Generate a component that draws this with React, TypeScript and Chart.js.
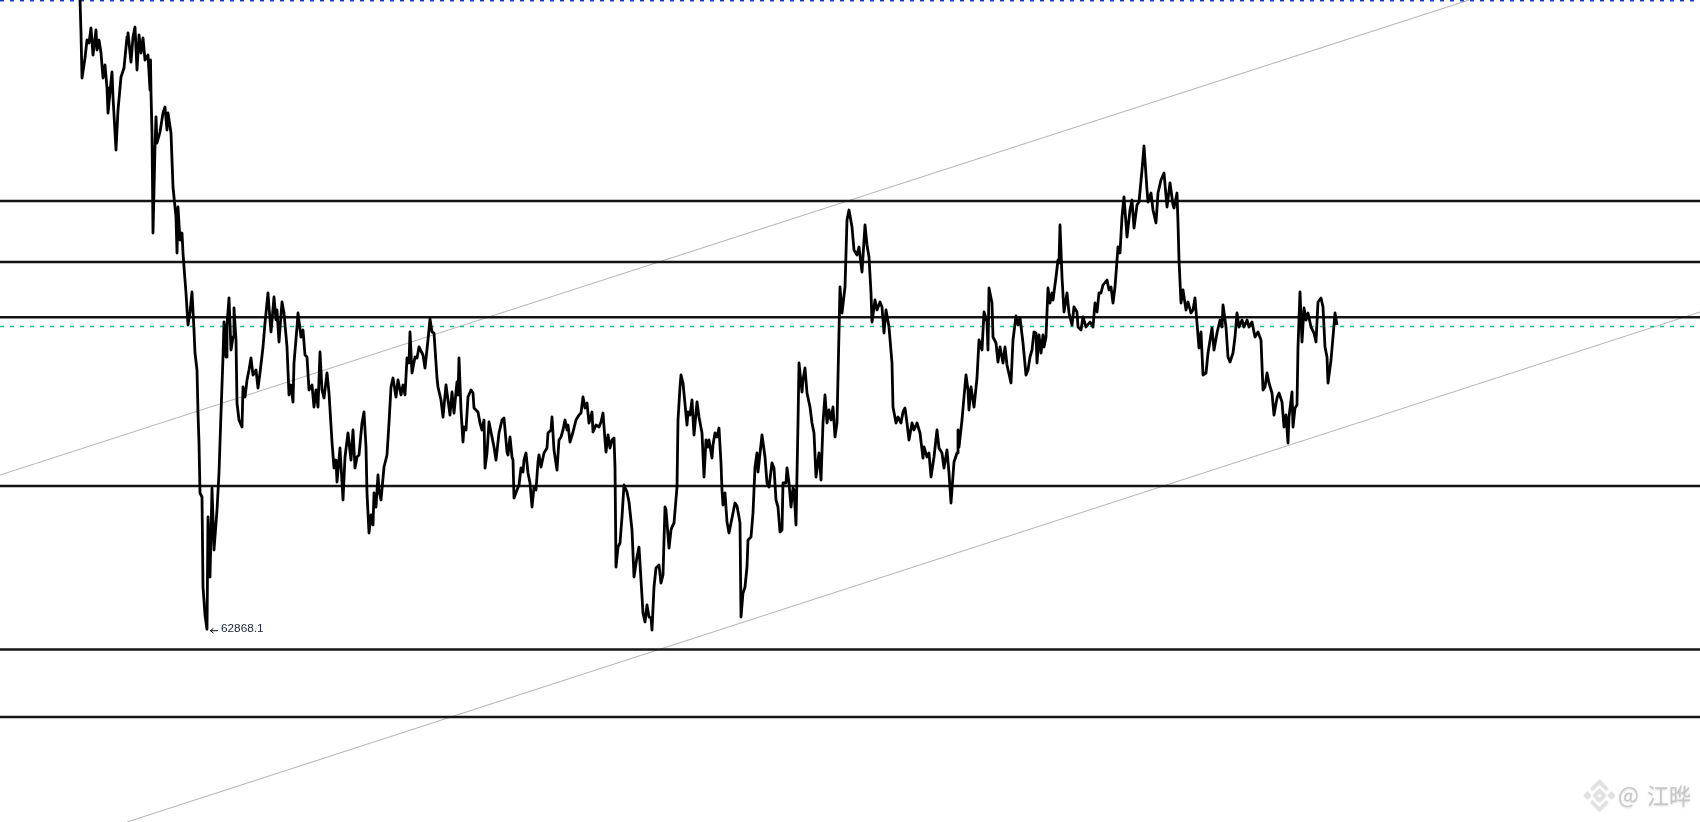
import React, { useEffect, useRef } from 'react';
import { Chart, registerables } from 'chart.js';

Chart.register(...registerables);

// bar number of each traced turning point of the price line
const bars = [
  0, 1, 2, 5, 7, 9, 11, 13, 16, 17, 19, 21, 23, 25, 27, 28, 30, 32, 33, 36, 38, 41, 44, 47, 48, 51, 53, 55, 57, 59, 61, 63, 65, 68, 70, 70.5, 71, 72, 73, 75, 76, 77, 80, 83, 85, 87, 88, 91, 92, 93, 96, 97, 98, 100, 102, 103, 104, 106, 108, 110, 112, 114,
  115, 117, 118, 119, 120, 122, 123, 125, 127, 128, 130, 132, 134, 137, 139, 141, 143, 144, 146, 147, 149, 151, 153, 154, 156, 157, 159, 162, 163, 165, 167, 169, 171, 173, 176, 178, 180, 183, 185, 188, 189, 191, 194, 196, 197, 199, 202, 204, 207, 209, 211, 213, 214, 217, 218, 221, 223, 225, 227, 229, 232, 234, 236, 238, 240, 242, 244, 247, 249, 252, 254, 256, 257, 260, 263, 265, 268, 271, 273, 275, 277, 279, 282, 284, 286, 287, 289, 291, 293, 294, 296, 298, 299, 301, 304, 307, 309, 311, 313, 316, 318, 321, 323, 325, 327, 329, 330, 332, 335, 337, 339, 343, 345, 348, 350, 352, 354, 357, 358, 361, 363, 366, 368,
  370, 372, 374, 377, 378, 379, 381, 383, 384, 386, 388, 391, 393, 394, 398, 400, 402, 404, 405, 407, 409, 412, 414, 416, 419, 422, 424, 427, 428, 430, 432, 433, 434, 437, 439, 441, 443, 444, 446, 448, 450, 452, 454, 456, 458, 459, 461, 464, 467, 468, 471, 472, 474, 477, 479, 481, 483, 485, 487, 488, 490, 493, 496, 499, 501, 503, 505, 507, 509, 512, 513, 516, 519, 521, 523, 525, 526, 528, 530, 532, 534, 535, 536, 538, 540, 542, 544, 547, 549, 552, 554, 557, 559, 561, 563, 565, 567, 569, 571, 572, 574, 576, 579, 581, 583, 585, 586, 589, 591, 592, 594, 597, 598, 600, 601, 603, 607, 608, 610, 612, 614, 617, 619, 622, 624, 626, 628, 629, 632, 633, 635, 637, 639, 641, 642, 643, 645, 647, 649, 652, 655, 657,
  659, 660, 661, 663, 665, 667, 668, 671, 673, 675, 677, 678, 682, 685, 687, 689, 692, 694, 696, 698, 700, 702, 703, 706, 707, 709, 711, 713, 714, 716, 718, 719, 722, 723, 725, 727, 730, 732, 734, 736, 739, 741, 743, 745, 747, 749, 751, 753, 755, 757, 758, 760, 762, 765, 767, 769, 772, 774, 777, 779, 782, 785, 787, 789, 791, 792, 795, 797, 800, 802, 804, 806, 809, 812, 813, 816, 818, 821, 823, 825, 827, 829, 832, 834, 837, 840, 843, 844, 847, 849, 851, 854, 857, 859, 862, 864, 867, 869, 871, 874, 877, 878, 879, 882, 884, 886, 888, 889, 891, 894, 897, 899, 902, 904, 907, 908, 909, 912, 913, 916, 918, 920, 923, 925, 927, 931, 933, 936, 938, 940, 943, 946, 948, 950,
  952, 954, 956, 957, 959, 961, 963, 964, 966, 968, 970, 972, 973, 976, 978, 979, 980, 982, 984, 987, 989, 992, 994, 997, 998, 1001, 1003, 1006, 1010, 1013, 1015, 1017, 1019, 1021, 1023, 1027, 1029, 1031, 1033, 1035, 1038, 1040, 1042, 1044, 1047, 1050, 1052, 1054, 1057, 1059, 1062, 1064, 1067, 1068, 1071, 1073, 1076, 1078, 1081, 1084, 1087, 1090, 1093, 1094, 1097, 1098, 1099, 1101, 1103, 1106, 1108, 1111, 1113, 1115, 1117, 1119, 1121, 1123, 1126, 1128, 1132, 1134, 1137, 1140, 1142, 1143, 1146, 1148, 1150, 1153, 1155, 1157, 1159, 1162, 1164, 1167, 1169, 1172, 1175, 1178, 1181, 1183, 1185, 1187, 1189, 1192, 1194, 1197, 1199, 1202, 1204, 1206, 1208, 1209, 1212, 1213, 1215, 1217, 1218, 1220, 1222, 1224, 1226, 1228, 1231, 1234, 1236, 1238, 1241, 1243, 1245, 1247, 1248, 1251, 1253, 1255, 1257,
];

// price at each of those bars
const prices = [
  69170, 68830, 68380, 68580, 68760, 68730, 68880, 68610, 68860, 68660, 68760, 68630, 68380, 68510, 68280, 68030, 68240, 68440, 68190, 67660, 68060, 68390, 68480, 68790, 68830, 68540, 68790, 68890, 68460, 68810, 68630, 68780, 68560, 68610, 68260, 68560, 68230, 67830, 66830, 67690, 67990, 67730, 67840, 68030, 68090, 67860, 68030, 67830, 67560, 67290, 66990, 66630, 67090, 66760, 66830, 66630, 66490, 66230, 65910, 66040, 66240, 65860,
  65630, 65460, 65030, 64730, 64230, 64190, 63290, 63010, 62868.1, 63990, 63390, 64280, 63660, 64060, 64430, 65030, 65590, 65940, 65590, 65910, 66180, 65660, 65790, 66080, 65760, 65130, 64960, 64890, 65290, 65190, 65360, 65460, 65580, 65410, 65460, 65280, 65430, 65690, 65930, 66230, 66090, 65840, 66190, 65960, 66060, 65740, 66140, 66030, 65690, 65210, 65310, 65140, 65530, 65890, 66030, 65790, 65860, 65610, 65590, 65260, 65310, 65090, 65260, 65090, 65640, 65260, 65180, 65430, 65230, 64740, 64480, 64560, 64340, 64680, 64160, 64590, 64830, 64560, 64860, 64480, 64590, 64610, 64930, 65040, 64690, 64230, 63830, 64010, 63910, 64230, 64090, 64410, 64260, 64160, 64490, 64610, 64930, 65290, 65380, 65190, 65360, 65210, 65310, 65210, 65580, 65530, 65840, 65430, 65590, 65580, 65690, 65610, 65480, 65760, 65970, 65840, 65830, 65380, 65290, 65160, 64990, 65310, 65160,
  65010, 65240, 65030, 65340, 65210, 65580, 65060, 64740, 64890, 64860, 65190, 65260, 65230, 65080, 65040, 64930, 64860, 64960, 64480, 64630, 64940, 64790, 64690, 64560, 64830, 64960, 64980, 64640, 64610, 64790, 64590, 64560, 64180, 64260, 64310, 64480, 64440, 64560, 64630, 64430, 64330, 64090, 64290, 64260, 64540, 64610, 64490, 64630, 64680, 64830, 64860, 64990, 64660, 64460, 64760, 64790, 64860, 64960, 64860, 64910, 64740, 64840, 64960, 65010, 65030, 65190, 65080, 65130, 64930, 65040, 64840, 64910, 64890, 64940, 65030, 64760, 64640, 64810, 64680, 64760, 64780, 64490, 63490, 63690, 63730, 63990, 64310, 64240, 64140, 63860, 63390, 63590, 63690, 63360, 63030, 62940, 63110, 62990, 62980, 62860, 63290, 63480, 63510, 63330, 63410, 64090, 64060, 63680, 63860, 63890, 63930, 64290, 64960, 65290, 65410, 65330, 64910, 65040, 65010, 65160, 64810, 65140, 64990, 64830, 64390, 64760, 64690, 64760, 64580, 64710, 64830, 64790, 64880, 64530, 64260, 64110, 64230, 63940, 63830, 63980, 64130, 64100,
  63990, 63930, 62990, 63230, 63290, 63490, 63760, 63790, 64030, 64490, 64630, 64440, 64810, 64590, 64330, 64290, 64530, 64480, 64160, 64090, 63840, 63860, 64330, 64330, 64480, 64330, 64090, 64280, 64260, 63910, 64930, 65530, 65240, 65360, 65480, 65230, 65090, 64930, 64830, 64390, 64630, 64360, 64930, 65210, 64930, 65060, 64960, 65090, 64790, 64930, 65390, 66290, 66030, 66290, 66960, 67060, 66890, 66660, 66610, 66690, 66440, 66910, 66710, 66590, 66230, 65940, 66160, 66060, 66140, 66090, 65830, 66060, 65890, 65530, 65090, 64930, 64990, 64930, 65040, 65080, 64930, 64760, 64930, 64860, 64930, 64830, 64580, 64690, 64590, 64630, 64390, 64590, 64860, 64680, 64630, 64480, 64660, 64430, 64130, 64540, 64630, 64860, 64690, 64960, 65190, 65410, 65260, 65060, 65290, 65090, 65380, 65760, 65660, 66040, 65940, 65660, 66280, 66130, 65790, 65730, 65540, 65690, 65530, 65690, 65510, 65330, 65760, 66000, 65910, 65980, 65730, 65410, 65460, 65590,
  65660, 65840, 65830, 65530, 65810, 65630, 65810, 65690, 65790, 66280, 66130, 66230, 66160, 66390, 66560, 66530, 66910, 66390, 66040, 66230, 66030, 65910, 66090, 66040, 65890, 65860, 65990, 65890, 65940, 65890, 66130, 66040, 66230, 66230, 66310, 66360, 66260, 66290, 66130, 66290, 66690, 66630, 66990, 67190, 66790, 67060, 67160, 66880, 67110, 67140, 67460, 67700, 67260, 67140, 67230, 67060, 66930, 67230, 67360, 67430, 67090, 67330, 67110, 67080, 67230, 66930, 66560, 66130, 66260, 66060, 66140, 66030, 66060, 66180, 65930, 65680, 65840, 65410, 65430, 65630, 65880, 65660, 65830, 65960, 65890, 66110, 65890, 65590, 65540, 65630, 65790, 66030, 65890, 65960, 65890, 65960, 65890, 65940, 65790, 65840, 65760, 65260, 65290, 65430, 65330, 65230, 65010, 65180, 65230, 65140, 64890, 65010, 64730, 64990, 65240, 64890, 65080, 65110, 65690, 66240, 65740, 66080, 65960, 66030, 65890, 65830, 65740, 66140, 66180, 66090, 65690, 65590, 65330, 65560, 65790, 66030, 65910,
];

const levels = [67150, 66540, 65987, 64300, 62665, 61990];
const lastPriceLevel = 65895;
const topLevel = 69152;

// two rising channel lines, [bar, price] at each end
const upperChannel = [[-80, 64410], [1389, 69160]];
const lowerChannel = [[47, 60940], [1620, 66040]];

const lowLabel = '62868.1';
const lowBar = 127;
const lowPrice = 62868.1;

const X_MIN = -80;
const X_MAX = 1620;
const Y_MIN = 60940;
const Y_MAX = 69160;

const flatLine = (y: number) => [{ x: X_MIN, y }, { x: X_MAX, y }];

// low price tag next to the lowest bar
const lowTagPlugin = {
  id: 'lowTag',
  afterDatasetsDraw(chart: any) {
    const { ctx, scales } = chart;
    const px = scales.x.getPixelForValue(lowBar);
    const py = scales.y.getPixelForValue(lowPrice);
    ctx.save();
    ctx.strokeStyle = '#111';
    ctx.lineWidth = 1;
    ctx.beginPath();
    ctx.moveTo(px + 3, py + 1.5);
    ctx.lineTo(px + 11, py + 1.5);
    ctx.moveTo(px + 6.5, py - 1);
    ctx.lineTo(px + 3.5, py + 1.5);
    ctx.lineTo(px + 6.5, py + 4);
    ctx.stroke();
    ctx.fillStyle = '#222b38';
    ctx.font = '11.8px "Liberation Sans", Arial, sans-serif';
    ctx.textBaseline = 'middle';
    ctx.fillText(lowLabel, px + 14, py - 0.5);
    ctx.restore();
  },
};

// grey logo and name in the lower right corner
const watermarkPlugin = {
  id: 'watermark',
  afterDraw(chart: any) {
    const { ctx } = chart;
    const cx = 1599.5;
    const cy = 795;
    const diamond = (x: number, y: number, r: number) => {
      ctx.beginPath();
      ctx.moveTo(x, y - r);
      ctx.lineTo(x + r, y);
      ctx.lineTo(x, y + r);
      ctx.lineTo(x - r, y);
      ctx.closePath();
    };
    ctx.save();
    ctx.shadowColor = 'rgba(0,0,0,0.18)';
    ctx.shadowBlur = 2;
    ctx.shadowOffsetY = 1;
    ctx.strokeStyle = '#e2e2e2';
    ctx.lineWidth = 2.5;
    diamond(cx, cy, 5);
    ctx.stroke();
    diamond(cx - 12, cy, 2);
    ctx.stroke();
    diamond(cx + 12, cy, 2);
    ctx.stroke();
    ctx.beginPath();
    ctx.moveTo(cx - 8, cy - 6);
    ctx.lineTo(cx, cy - 14);
    ctx.lineTo(cx + 8, cy - 6);
    ctx.stroke();
    ctx.beginPath();
    ctx.moveTo(cx - 8, cy + 6);
    ctx.lineTo(cx, cy + 14);
    ctx.lineTo(cx + 8, cy + 6);
    ctx.stroke();
    ctx.fillStyle = '#c8c8c8';
    ctx.textBaseline = 'middle';
    ctx.font = '22px "Noto Sans CJK SC", sans-serif';
    ctx.fillText('@', 1618, cy);
    ctx.fillText('江晔', 1647, cy + 1);
    ctx.restore();
  },
};

const App = (): JSX.Element => {
  const canvasRef = useRef<HTMLCanvasElement>(null);

  useEffect(() => {
    document.body.style.margin = '0';
    document.body.style.background = '#fff';
    if (!canvasRef.current) return;

    const chart = new Chart(canvasRef.current, {
      type: 'line',
      data: {
        datasets: [
          {
            data: bars.map((b, i) => ({ x: b, y: prices[i] })),
            borderColor: '#000',
            borderWidth: 2.8,
            borderJoinStyle: 'round',
            tension: 0,
            pointRadius: 0,
          },
          ...levels.map((y) => ({
            data: flatLine(y),
            borderColor: '#141414',
            borderWidth: 2.4,
            pointRadius: 0,
          })),
          {
            data: flatLine(lastPriceLevel),
            borderColor: '#12c48e',
            borderWidth: 1.5,
            borderDash: [4, 6],
            pointRadius: 0,
          },
          {
            data: flatLine(topLevel),
            borderColor: '#1a3fd0',
            borderWidth: 1.6,
            borderDash: [4, 6],
            pointRadius: 0,
          },
          ...[upperChannel, lowerChannel].map((pts) => ({
            data: pts.map(([x, y]) => ({ x, y })),
            borderColor: '#b8b8b8',
            borderWidth: 1.1,
            pointRadius: 0,
          })),
        ],
      },
      options: {
        animation: false,
        responsive: false,
        parsing: false,
        normalized: true,
        layout: { padding: 0 },
        plugins: { legend: { display: false }, tooltip: { enabled: false }, title: { display: false } },
        scales: {
          x: { type: 'linear', display: false, min: X_MIN, max: X_MAX },
          y: { type: 'linear', display: false, min: Y_MIN, max: Y_MAX },
        },
      },
      plugins: [lowTagPlugin, watermarkPlugin],
    } as any);

    return () => chart.destroy();
  }, []);

  return <canvas ref={canvasRef} width={1700} height={822} style={{ display: 'block' }} />;
};

export default App;
